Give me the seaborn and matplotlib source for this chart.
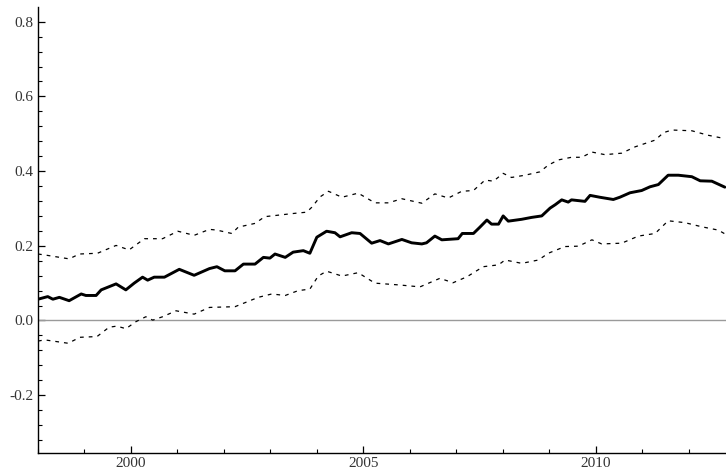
import matplotlib
matplotlib.use("Agg")
import matplotlib.pyplot as plt
from matplotlib.ticker import MultipleLocator
import seaborn as sns
import pandas as pd

# Central estimate (decimal year, value)
center_year = [1998.00, 1998.21, 1998.32, 1998.46, 1998.67, 1998.93, 1999.03, 1999.25,
               1999.36, 1999.68, 1999.89, 2000.07, 2000.25, 2000.36, 2000.50, 2000.72,
               2001.04, 2001.36, 2001.69, 2001.85, 2002.02, 2002.24, 2002.42, 2002.67,
               2002.85, 2002.99, 2003.10, 2003.32, 2003.49, 2003.71, 2003.85, 2004.00,
               2004.21, 2004.39, 2004.50, 2004.75, 2004.93, 2005.18, 2005.36, 2005.54,
               2005.83, 2006.04, 2006.26, 2006.36, 2006.54, 2006.69, 2007.04, 2007.13,
               2007.37, 2007.51, 2007.66, 2007.76, 2007.91, 2008.01, 2008.12, 2008.41,
               2008.62, 2008.84, 2009.02, 2009.13, 2009.27, 2009.41, 2009.48, 2009.77,
               2009.88, 2010.09, 2010.38, 2010.52, 2010.74, 2010.99, 2011.17, 2011.35,
               2011.56, 2011.78, 2012.07, 2012.25, 2012.50, 2012.64, 2012.78]
center_val = [0.057, 0.064, 0.057, 0.062, 0.053, 0.071, 0.067, 0.067,
              0.082, 0.098, 0.082, 0.100, 0.116, 0.108, 0.116, 0.116,
              0.137, 0.121, 0.139, 0.144, 0.133, 0.133, 0.151, 0.151,
              0.169, 0.167, 0.178, 0.169, 0.183, 0.187, 0.180, 0.223,
              0.239, 0.235, 0.224, 0.235, 0.233, 0.207, 0.214, 0.205,
              0.217, 0.208, 0.205, 0.208, 0.226, 0.216, 0.219, 0.233,
              0.233, 0.250, 0.269, 0.258, 0.258, 0.280, 0.266, 0.271,
              0.276, 0.280, 0.301, 0.310, 0.323, 0.317, 0.323, 0.319,
              0.335, 0.330, 0.324, 0.330, 0.342, 0.348, 0.358, 0.364,
              0.389, 0.389, 0.385, 0.374, 0.373, 0.365, 0.357]

# Upper confidence bound
upper_year = [1998.00, 1998.17, 1998.67, 1998.89, 1999.28, 1999.68, 1999.96, 2000.29,
              2000.68, 2001.01, 2001.36, 2001.69, 2001.85, 2002.17, 2002.31, 2002.67,
              2002.88, 2003.17, 2003.53, 2003.78, 2003.89, 2004.07, 2004.25, 2004.54,
              2004.89, 2005.25, 2005.54, 2005.83, 2006.26, 2006.54, 2006.83, 2007.12,
              2007.37, 2007.62, 2007.80, 2008.01, 2008.19, 2008.48, 2008.80, 2008.98,
              2009.20, 2009.48, 2009.70, 2009.92, 2010.20, 2010.56, 2010.85, 2011.28,
              2011.46, 2011.64, 2012.07, 2012.42, 2012.78]
upper_val = [0.178, 0.175, 0.165, 0.178, 0.180, 0.201, 0.189, 0.219,
             0.219, 0.239, 0.228, 0.244, 0.242, 0.233, 0.250, 0.260,
             0.278, 0.282, 0.287, 0.290, 0.303, 0.331, 0.346, 0.330,
             0.341, 0.315, 0.315, 0.326, 0.314, 0.339, 0.328, 0.346,
             0.348, 0.376, 0.373, 0.394, 0.383, 0.389, 0.398, 0.416,
             0.430, 0.437, 0.437, 0.451, 0.444, 0.448, 0.465, 0.483,
             0.503, 0.510, 0.508, 0.496, 0.487]

# Lower confidence bound
lower_year = [1998.00, 1998.15, 1998.65, 1998.90, 1999.27, 1999.53, 1999.70, 1999.89,
              2000.11, 2000.32, 2000.47, 2000.68, 2000.97, 2001.36, 2001.69, 2002.24,
              2002.42, 2002.74, 2003.03, 2003.32, 2003.60, 2003.85, 2004.03, 2004.21,
              2004.54, 2004.89, 2005.25, 2005.79, 2006.22, 2006.65, 2006.93, 2007.23,
              2007.58, 2007.91, 2008.05, 2008.41, 2008.77, 2008.98, 2009.34, 2009.63,
              2009.92, 2010.13, 2010.56, 2010.92, 2011.28, 2011.56, 2011.92, 2012.28,
              2012.64, 2012.78]
lower_val = [-0.055, -0.052, -0.061, -0.045, -0.043, -0.018, -0.015, -0.022,
             -0.003, 0.010, 0.001, 0.010, 0.026, 0.017, 0.035, 0.037,
             0.046, 0.062, 0.071, 0.067, 0.080, 0.084, 0.119, 0.132,
             0.119, 0.128, 0.100, 0.095, 0.090, 0.113, 0.101, 0.117,
             0.144, 0.149, 0.162, 0.153, 0.162, 0.180, 0.198, 0.199,
             0.216, 0.205, 0.207, 0.226, 0.233, 0.267, 0.262, 0.251,
             0.242, 0.232]

x_ticks = [2000, 2005, 2010]
y_ticks = [-0.2, 0.0, 0.2, 0.4, 0.6, 0.8]

sns.set_style("white")
plt.rcParams["font.family"] = ["Liberation Serif", "DejaVu Serif"]

fig = plt.figure(figsize=(7.26, 4.76), dpi=100)
ax = fig.add_axes([38 / 726, 23 / 476, 688 / 726, 446 / 476])

center = pd.DataFrame({"year": center_year, "value": center_val})
upper = pd.DataFrame({"year": upper_year, "value": upper_val})
lower = pd.DataFrame({"year": lower_year, "value": lower_val})

ax.axhline(0.0, color="#9a9a9a", lw=1.0, zorder=1)

sns.lineplot(data=upper, x="year", y="value", ax=ax, color="black", lw=0.9,
             linestyle=(0, (3, 4)), estimator=None, sort=False)
sns.lineplot(data=lower, x="year", y="value", ax=ax, color="black", lw=0.9,
             linestyle=(0, (3, 4)), estimator=None, sort=False)
sns.lineplot(data=center, x="year", y="value", ax=ax, color="black", lw=2.1,
             estimator=None, sort=False)

ax.set_xlim(1998.0, 2012.805)
ax.set_ylim(-0.3548, 0.8394)
ax.set_xlabel("")
ax.set_ylabel("")

for side in ("top", "right"):
    ax.spines[side].set_visible(False)
for side in ("left", "bottom"):
    ax.spines[side].set_color("black")
    ax.spines[side].set_linewidth(1.0)

ax.set_xticks(x_ticks)
ax.set_xticklabels([str(t) for t in x_ticks])
ax.set_yticks(y_ticks)
ax.set_yticklabels([f"{t:.1f}" for t in y_ticks])
ax.xaxis.set_minor_locator(MultipleLocator(1))
ax.yaxis.set_minor_locator(MultipleLocator(0.04))

ax.tick_params(axis="both", which="major", direction="in", length=5, width=0.9,
               color="black", labelsize=11, labelcolor="#333333", pad=3,
               bottom=True, left=True)
ax.tick_params(axis="both", which="minor", direction="in", length=3, width=0.8,
               color="black", bottom=True, left=True)

fig.savefig("out.png", dpi=100)
